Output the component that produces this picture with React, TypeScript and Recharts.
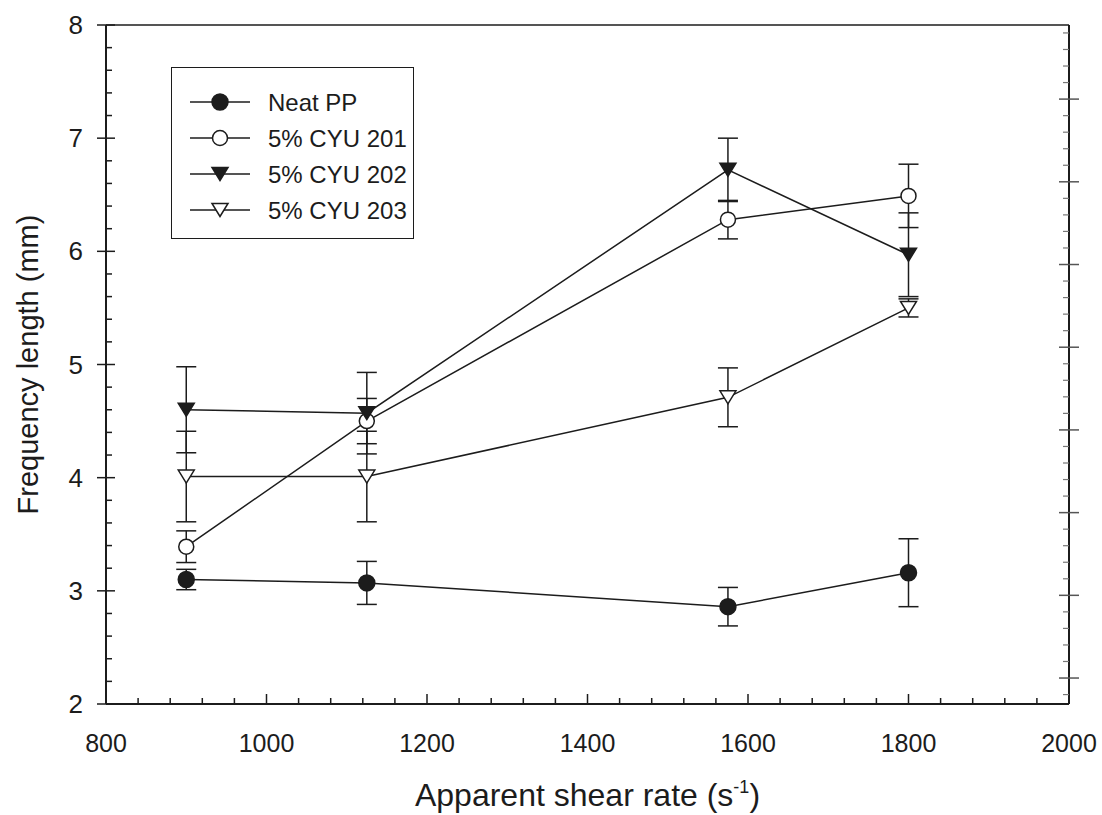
import React from "react";
import { LineChart, Line, XAxis, YAxis, ErrorBar } from "recharts";

// shear rates (s^-1) and measured frequency lengths (mm) with error bars
const shearRate = [900, 1125, 1575, 1800];

const neatPP = [3.1, 3.07, 2.86, 3.16];
const neatPPErr = [0.09, 0.19, 0.17, 0.3];
const cyu201 = [3.39, 4.5, 6.28, 6.49];
const cyu201Err = [0.14, 0.2, 0.17, 0.28];
const cyu202 = [4.6, 4.57, 6.72, 5.97];
const cyu202Err = [0.38, 0.36, 0.28, 0.37];
const cyu203 = [4.01, 4.01, 4.71, 5.5];
const cyu203Err = [0.4, 0.4, 0.26, 0.08];

const seriesNames = ["Neat PP", "5% CYU 201", "5% CYU 202", "5% CYU 203"];

const xMajor = [800, 1000, 1200, 1400, 1600, 1800, 2000];
const yMajor = [2, 3, 4, 5, 6, 7, 8];

const INK = "#1c1c1c";
const FONT = "Arial, 'Liberation Sans', Helvetica, sans-serif";

// minor ticks: 5 steps between x majors, 5 steps between y majors
const xTicks: number[] = [];
for (let v = 800; v <= 2000; v += 40) xTicks.push(v);
const yTicks: number[] = [];
for (let i = 0; i <= 30; i++) yTicks.push(Math.round((2 + i * 0.2) * 10) / 10);
// the right frame carries its own tick spacing
const rightTicks: number[] = [];
for (let i = 0; i <= 40; i++) rightTicks.push(Math.round((0.8 + i * 0.2) * 10) / 10);

const rows = (ys: number[], errs: number[]) =>
  shearRate.map((x, i) => ({ x, y: ys[i], err: errs[i] }));

type Kind = "circleFilled" | "circleOpen" | "triFilled" | "triOpen";

const Marker = ({ cx, cy, kind }: { cx: number; cy: number; kind: Kind }) => {
  if (kind === "circleFilled" || kind === "circleOpen") {
    return (
      <circle cx={cx} cy={cy} r={kind === "circleFilled" ? 8 : 7.5}
        fill={kind === "circleFilled" ? INK : "#fff"} stroke={INK} strokeWidth={1.5} />
    );
  }
  const w = 8, h = 6.5;
  return (
    <polygon
      points={`${cx - w},${cy - h} ${cx + w},${cy - h} ${cx},${cy + h}`}
      fill={kind === "triFilled" ? INK : "#fff"} stroke={INK} strokeWidth={1.5} strokeLinejoin="miter" />
  );
};

const dotFor = (kind: Kind) => (p: any) =>
  <Marker key={`${kind}-${p.index}`} cx={p.cx} cy={p.cy} kind={kind} />;

const BottomTick = (p: any) => {
  const { x, y, payload } = p;
  const major = xMajor.includes(payload.value);
  return (
    <g>
      <line x1={x} x2={x} y1={y} y2={y - (major ? 10 : 6)} stroke={INK} strokeWidth={1.5} />
      {major && (
        <text x={x} y={y + 48} textAnchor="middle" fontSize={25} fontFamily={FONT} fill={INK}>
          {payload.value}
        </text>
      )}
    </g>
  );
};

const TopTick = (p: any) => {
  const { x, y } = p;
  return <line x1={x} x2={x} y1={y} y2={y + 9} stroke={INK} strokeWidth={1.5} />;
};

const LeftTick = (p: any) => {
  const { x, y, payload } = p;
  const major = yMajor.includes(payload.value);
  return (
    <g>
      {major ? (
        <line x1={x - 9} x2={x + 9} y1={y} y2={y} stroke={INK} strokeWidth={1.5} />
      ) : (
        <line x1={x} x2={x + 6} y1={y} y2={y} stroke={INK} strokeWidth={1.5} />
      )}
      {major && (
        <text x={x - 23} y={y + 9} textAnchor="end" fontSize={26} fontFamily={FONT} fill={INK}>
          {payload.value}
        </text>
      )}
    </g>
  );
};

const RightTick = (p: any) => {
  const { x, y, payload } = p;
  if (payload.value > 8.8) return <g />;
  const major = Number.isInteger(payload.value);
  return major ? (
    <line x1={x - 10} x2={x + 10} y1={y} y2={y} stroke="#555" strokeWidth={1.5} />
  ) : (
    <line x1={x - 6} x2={x} y1={y} y2={y} stroke="#777" strokeWidth={1.2} />
  );
};

const XTitle = (p: any) => {
  const { viewBox } = p;
  const cx = viewBox.x + viewBox.width / 2;
  return (
    <text x={cx} y={806} textAnchor="middle" fontSize={32} fontFamily={FONT} fill={INK}>
      Apparent shear rate (s
      <tspan dy={-13} fontSize={18}>-1</tspan>
      <tspan dy={13}>)</tspan>
    </text>
  );
};

const YTitle = (p: any) => {
  const { viewBox } = p;
  const cy = viewBox.y + viewBox.height / 2;
  return (
    <text x={38} y={cy} transform={`rotate(-90 38 ${cy})`} textAnchor="middle"
      fontSize={29} fontFamily={FONT} fill={INK}>
      Frequency length (mm)
    </text>
  );
};

const legendKinds: Kind[] = ["circleFilled", "circleOpen", "triFilled", "triOpen"];

const LegendBox = () => (
  <div style={{
    position: "absolute", left: 171, top: 67, width: 243, height: 172,
    border: `1.5px solid ${INK}`, background: "#fff", boxSizing: "border-box",
  }}>
    <svg width={243} height={172}>
      {seriesNames.map((name, i) => {
        const y = 34 + i * 36;
        return (
          <g key={name}>
            <line x1={18} x2={78} y1={y} y2={y} stroke={INK} strokeWidth={1.5} />
            <Marker cx={48} cy={y} kind={legendKinds[i]} />
            <text x={96} y={y + 9} fontSize={24} fontFamily={FONT} fill={INK}>{name}</text>
          </g>
        );
      })}
    </svg>
  </div>
);

const seriesList = [
  { ys: neatPP, errs: neatPPErr, kind: "circleFilled" as Kind },
  { ys: cyu201, errs: cyu201Err, kind: "circleOpen" as Kind },
  { ys: cyu202, errs: cyu202Err, kind: "triFilled" as Kind },
  { ys: cyu203, errs: cyu203Err, kind: "triOpen" as Kind },
];

export default function App() {
  return (
    <div style={{ position: "absolute", left: 0, top: 0, width: 1102, height: 815, background: "#fff" }}>
      <LineChart width={1102} height={815} margin={{ top: 24, right: 32, bottom: 51, left: 46 }}>
        <XAxis xAxisId="bottom" type="number" dataKey="x" domain={[800, 2000]} ticks={xTicks}
          interval={0} allowDataOverflow height={60} tickSize={0} tickMargin={0} tickLine={false}
          axisLine={{ stroke: INK, strokeWidth: 2 }} tick={<BottomTick />}
          label={{ content: <XTitle /> }} />
        <XAxis xAxisId="top" orientation="top" type="number" domain={[800, 2000]} ticks={xMajor}
          interval={0} allowDataOverflow height={1} tickSize={0} tickMargin={0} tickLine={false}
          axisLine={{ stroke: INK, strokeWidth: 1.5 }} tick={<TopTick />} />
        <YAxis yAxisId="left" type="number" domain={[2, 8]} ticks={yTicks} interval={0}
          allowDataOverflow width={60} tickSize={0} tickMargin={0} tickLine={false}
          axisLine={{ stroke: INK, strokeWidth: 2 }} tick={<LeftTick />}
          label={{ content: <YTitle /> }} />
        <YAxis yAxisId="right" orientation="right" type="number" domain={[0.686, 8.896]}
          ticks={rightTicks} interval={0} allowDataOverflow width={1} tickSize={0} tickMargin={0}
          tickLine={false} axisLine={{ stroke: INK, strokeWidth: 2 }} tick={<RightTick />} />
        {seriesList.map((s, i) => (
          <Line key={seriesNames[i]} xAxisId="bottom" yAxisId="left" data={rows(s.ys, s.errs)}
            dataKey="y" stroke={INK} strokeWidth={1.5} dot={dotFor(s.kind)} activeDot={false}
            isAnimationActive={false} name={seriesNames[i]}>
            <ErrorBar dataKey="err" width={10} stroke={INK} strokeWidth={1.5} direction="y" />
          </Line>
        ))}
      </LineChart>
      <LegendBox />
    </div>
  );
}
